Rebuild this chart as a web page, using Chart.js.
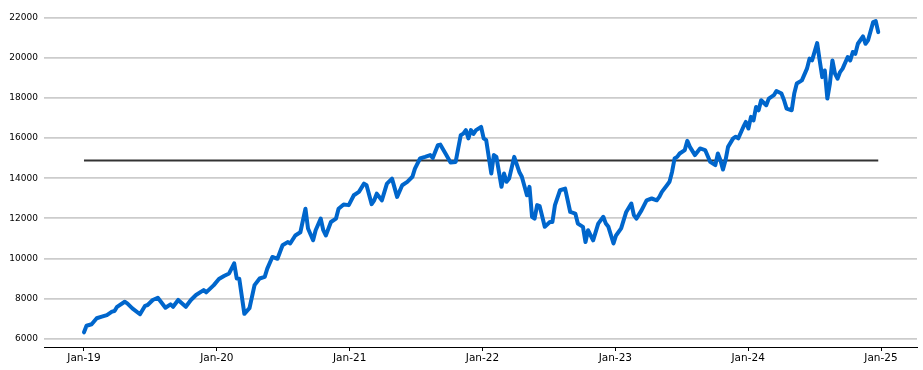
<!DOCTYPE html>
<html>
<head>
<meta charset="utf-8">
<script src="https://cdn.jsdelivr.net/npm/chart.js@4.4.1/dist/chart.umd.min.js"></script>
<style>
html,body{margin:0;padding:0;background:#fff;}
#wrap{width:923px;height:370px;position:relative;}
</style>
</head>
<body>
<div id="wrap"><canvas id="c" width="923" height="370"></canvas></div>
<script>
// Weeks since start of Jan 2019
const weeks = [
0,1,3,5,7,9,11,12,13,16,
17,19,22,24,25,27,29,32,34,35,
37,40,42,44,47,48,51,53,55,57,
59,60,61,63,65,67,69,71,72,74,
76,78,80,81,83,85,87,88,90,91,
93,94,95,97,99,100,102,104,106,108,
110,111,113,114,115,117,119,121,123,125,
127,129,130,132,134,136,137,139,140,142,
144,146,147,148,149,150,151,152,153,154,
156,157,158,160,161,162,164,165,166,167,
169,171,172,174,175,176,177,178,179,181,
183,184,185,187,189,190,191,193,194,196,
197,198,200,202,204,205,206,208,209,211,
213,215,216,217,219,221,223,225,226,227,
229,230,231,232,233,234,236,237,238,240,
242,244,246,248,249,250,251,252,253,255,
256,257,259,260,261,262,263,264,265,266,
268,269,271,272,274,275,276,278,279,280,
282,284,285,286,288,289,290,291,292,293,
294,295,296,297,298,300,301,302,303,304,
306,307,308,310,311,312
];
const values = [
6330,6660,6730,7030,7110,7190,7360,7390,7600,7850,
7770,7525,7230,7650,7690,7940,8050,7555,7720,7600,
7940,7600,7940,8190,8430,8320,8680,8980,9130,9260,
9760,9010,9000,7250,7530,8680,9010,9090,9500,10080,
9990,10660,10820,10750,11150,11310,12480,11500,10910,11410,
11990,11410,11150,11820,11990,12480,12690,12660,13150,13320,
13730,13650,12710,12900,13230,12900,13730,13980,13070,13650,
13820,14070,14480,14980,15060,15150,15010,15640,15670,15230,
14780,14810,15480,16140,16220,16390,15980,16390,16200,16390,
16550,15980,15890,14230,15150,15060,13570,14230,13820,13980,
15060,14310,14070,13150,13570,12080,11990,12660,12610,11580,
11820,11820,12660,13400,13480,12900,12320,12240,11740,11580,
10820,11410,10910,11740,12080,11740,11580,10750,11150,11500,
12320,12740,12160,11990,12400,12900,12990,12900,13070,13320,
13650,13820,14310,14980,15060,15230,15400,15860,15560,15150,
15480,15400,14810,14650,15230,14890,14430,14890,15560,15980,
16060,15980,16550,16800,16470,17050,16880,17540,17380,17880,
17630,17960,18130,18340,18210,17880,17460,17380,18210,18710,
18870,19450,19950,19860,20720,19860,19030,19360,17960,18710,
19860,19200,18950,19280,19450,20030,19860,20280,20190,20690,
21060,20690,20860,21770,21820,21270
];
const meanLevel = 14880;
const tickYears = [2019,2020,2021,2022,2023,2024,2025];
const tickLabels = ['Jan-19','Jan-20','Jan-21','Jan-22','Jan-23','Jan-24','Jan-25'];
const yTicks = [6000,8000,10000,12000,14000,16000,18000,20000,22000];

const WEEKS_PER_YEAR = 52.18;
const toX = w => 2019 + w / WEEKS_PER_YEAR;
const seriesPts = weeks.map((w, i) => ({x: toX(w), y: values[i]}));
const meanPts = [{x: toX(weeks[0]), y: meanLevel}, {x: toX(weeks[weeks.length-1]), y: meanLevel}];

new Chart(document.getElementById('c'), {
  type: 'line',
  data: {
    datasets: [
      {data: meanPts, borderColor: '#333333', borderWidth: 2, pointRadius: 0, tension: 0, order: 2},
      {data: seriesPts, borderColor: '#0066CC', borderWidth: 4, pointRadius: 0, tension: 0, order: 1,
       borderJoinStyle: 'round', borderCapStyle: 'round'}
    ]
  },
  options: {
    responsive: false,
    animation: false,
    events: [],
    layout: {padding: {top: 11, right: 6, bottom: 0, left: 0}},
    plugins: {legend: {display: false}, tooltip: {enabled: false}},
    scales: {
      x: {
        type: 'linear',
        min: 2018.699,
        max: 2025.271,
        afterBuildTicks: s => { s.ticks = tickYears.map(v => ({value: v})); },
        afterFit: s => { s.height = 23; },
        ticks: {
          autoSkip: false, maxRotation: 0, padding: 1,
          color: '#000', font: {family: 'DejaVu Sans', size: 10.5},
          callback: (v) => { const i = tickYears.indexOf(v); return i >= 0 ? tickLabels[i] : ''; }
        },
        grid: {drawOnChartArea: false, drawTicks: true, tickLength: 4, color: '#000', lineWidth: 1},
        border: {display: true, color: '#000', width: 1}
      },
      y: {
        min: 5600,
        max: 22300,
        afterBuildTicks: s => { s.ticks = yTicks.map(v => ({value: v})); },
        afterFit: s => { s.width = 44; },
        ticks: {
          padding: 6, color: '#000', font: {family: 'DejaVu Sans', size: 9},
          callback: v => String(v)
        },
        grid: {drawTicks: false, color: '#cccccc', lineWidth: 1.8},
        border: {display: false}
      }
    }
  }
});
</script>
</body>
</html>
